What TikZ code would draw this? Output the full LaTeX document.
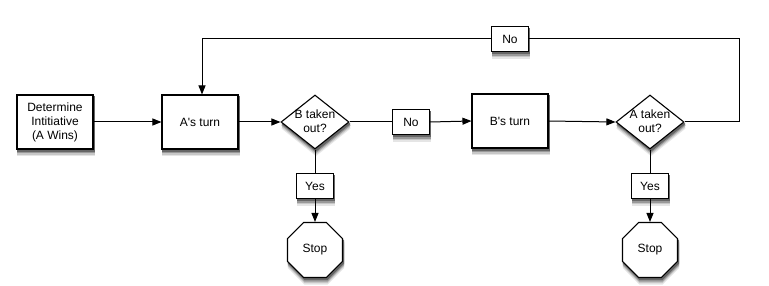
\documentclass[tikz,border=0pt]{standalone}
\usepackage{fontspec}
\setmainfont{Liberation Sans}
\usetikzlibrary{shapes.geometric,arrows.meta,backgrounds}
\begin{document}
\begin{tikzpicture}[x=1pt,y=-1pt,
 font=\fontsize{12}{14}\selectfont,
 procbox/.style={draw,line width=1.1pt,fill=white,minimum width=76pt,minimum height=54pt,inner sep=0,align=center},
 lblbox/.style={draw,line width=1.1pt,fill=white,minimum width=37pt,minimum height=25pt,inner sep=0},
 decision/.style={diamond,draw,line width=1.1pt,fill=white,minimum width=68pt,minimum height=54pt,inner sep=0},
 stopoct/.style={regular polygon,regular polygon sides=8,draw,line width=1.1pt,fill=white,minimum size=59.5pt,inner sep=0},
 txt/.style={align=center,inner sep=0},
 conn/.style={line width=1pt},
 arr/.style={conn,-{Triangle[length=9pt,width=7pt]}}
]
\useasboundingbox (0,0) rectangle (769,286);

\node[procbox] (det) at (55,122) {Determine\\Intitiative\\(A Wins)};
\node[procbox] (aturn) at (200,122) {A\textquotesingle s turn};
\node[decision] (bq) at (315,122) {};
\node[txt] (bqt) at (315,121) {B taken\\out?};
\node[lblbox] (no1) at (411,122) {No};
\node[procbox] (bturn) at (510,121) {B\textquotesingle s turn};
\node[decision] (aq) at (650,122) {};
\node[txt] (aqt) at (650,121) {A taken\\out?};
\node[lblbox] (yes1) at (315,186) {Yes};
\node[stopoct] (stop1) at (315,250) {};
\node[txt] (stop1t) at (315,250) {Stop};
\node[lblbox] (yes2) at (650,186) {Yes};
\node[stopoct] (stop2) at (650,250) {};
\node[txt] (stop2t) at (650,250) {Stop};
\node[lblbox] (no2) at (510,39) {No};
\coordinate (cr) at (739,122);
\coordinate (ct) at (739,39);
\coordinate (cl) at (202,39);

\begin{scope}[on background layer]
\fill[white] (0,0) rectangle (769,286);
\foreach \d/\c in {6.5/10,5/22,3.5/40,2/60}{
  \foreach \n in {det,aturn,bturn,no1,no2,yes1,yes2}{
    \fill[black!\c] ([shift={(1,\d)}]\n.south west) rectangle ([shift={(1,\d)}]\n.north east);
  }
  \foreach \n in {bq,aq}{
    \fill[black!\c] ([shift={(1,\d)}]\n.north) -- ([shift={(1,\d)}]\n.east)
      -- ([shift={(1,\d)}]\n.south) -- ([shift={(1,\d)}]\n.west) -- cycle;
  }
  \foreach \n in {stop1,stop2}{
    \fill[black!\c] ([shift={(1,\d)}]\n.corner 1) -- ([shift={(1,\d)}]\n.corner 2)
      -- ([shift={(1,\d)}]\n.corner 3) -- ([shift={(1,\d)}]\n.corner 4)
      -- ([shift={(1,\d)}]\n.corner 5) -- ([shift={(1,\d)}]\n.corner 6)
      -- ([shift={(1,\d)}]\n.corner 7) -- ([shift={(1,\d)}]\n.corner 8) -- cycle;
  }
}
\draw[arr] (det.east) -- (aturn.west);
\draw[arr] (aturn.east) -- (bq.west);
\draw[conn] (bq.east) -- (no1.west);
\draw[arr] (no1.east) -- (bturn.west);
\draw[arr] (bturn.east) -- (aq.west);
\draw[conn] (aq.east) -- (cr) -- (ct) -- (no2.east);
\draw[arr] (no2.west) -- (cl) -- (cl |- aturn.north);
\draw[conn] (bq.south) -- (yes1.north);
\draw[arr] (yes1.south) -- (stop1.north);
\draw[conn] (aq.south) -- (yes2.north);
\draw[arr] (yes2.south) -- (stop2.north);
\end{scope}
\end{tikzpicture}
\end{document}
